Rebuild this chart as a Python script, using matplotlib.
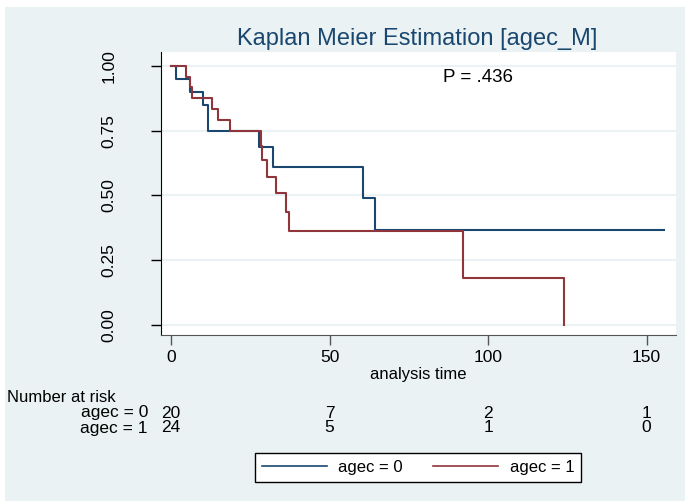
import matplotlib
matplotlib.use('Agg')
import matplotlib.pyplot as plt
import matplotlib.transforms as mtransforms
from matplotlib.patches import Rectangle

plt.rcParams['font.family'] = ['Liberation Sans', 'DejaVu Sans']

# survival curves
time0 = [0, 1.6, 5.8, 10.2, 11.5, 27.8, 32.0, 60.5, 64.2, 155.5]
surv0 = [1.0, 0.95, 0.90, 0.85, 0.75, 0.6875, 0.611, 0.489, 0.367, 0.367]
time1 = [0, 4.7, 5.8, 6.7, 12.9, 14.7, 18.6, 28.3, 28.7, 30.1, 33.0, 36.3, 37.3, 92.0, 124.0]
surv1 = [1.0, 0.958, 0.917, 0.875, 0.833, 0.792, 0.75, 0.692, 0.635, 0.571, 0.508, 0.436, 0.363, 0.182, 0.0]

risk_times = [0, 50, 100, 150]
risk0 = [20, 7, 2, 1]
risk1 = [24, 5, 1, 0]
groups = ['agec = 0', 'agec = 1']

bg = '#eaf2f3'
navy = '#1a476f'
maroon = '#90353b'

W, H = 685, 501
fig = plt.figure(figsize=(W / 100, H / 100), dpi=100, facecolor='white')
fig.patches.append(Rectangle((5 / W, 0), 1, 1 - 7 / H, transform=fig.transFigure,
                             facecolor=bg, edgecolor='none', zorder=-10))

ax = fig.add_axes([161 / W, 1 - 335 / H, (676 - 161) / W, (335 - 52) / H])
ax.set_facecolor('white')

l0, = ax.plot(time0, surv0, drawstyle='steps-post', color=navy, lw=1.5, label=groups[0])
l1, = ax.plot(time1, surv1, drawstyle='steps-post', color=maroon, lw=1.5, label=groups[1])

ax.set_xlim(-3.2, 159.3)
ax.set_ylim(-0.038, 1.053)
ax.set_xticks([0, 50, 100, 150])
ax.set_yticks([0, 0.25, 0.5, 0.75, 1.0])
ax.set_yticklabels(['0.00', '0.25', '0.50', '0.75', '1.00'], rotation=90, va='center')
ax.yaxis.grid(True, color=bg, lw=1.5)
ax.set_axisbelow(True)
ax.tick_params(axis='both', direction='out', length=7, width=1, labelsize=12.5, pad=4)
ax.tick_params(axis='y', pad=25)
for s in ['top', 'right']:
    ax.spines[s].set_visible(False)
ax.spines['left'].set_color('black')
ax.spines['bottom'].set_color('#555555')
ax.tick_params(axis='x', colors='#555555', labelcolor='black')
ax.set_xlabel('analysis time', fontsize=12, labelpad=1)

fig.text(478 / W, 1 - 78 / H, 'P = .436', fontsize=13.5, ha='center', va='center')
fig.text(417 / W, 1 - 39 / H, 'Kaplan Meier Estimation [agec_M]', fontsize=17,
         color=navy, ha='center', va='center')

# number at risk table
trans = mtransforms.blended_transform_factory(ax.transData, fig.transFigure)
fig.text(7 / W, 1 - 398 / H, 'Number at risk', fontsize=12, ha='left', va='center')
for row, (name, counts) in enumerate(zip(groups, [risk0, risk1])):
    yy = 1 - (413 + 15 * row) / H
    fig.text(148 / W, yy, name, fontsize=12.5, ha='right', va='center')
    for t, n in zip(risk_times, counts):
        ax.text(t, yy, str(n), transform=trans, fontsize=12.5, ha='center', va='center')

leg = ax.legend(handles=[l0, l1], ncol=2, loc='center',
                bbox_to_anchor=(418 / W, 1 - 467.5 / H), bbox_transform=fig.transFigure,
                fontsize=12, frameon=True, fancybox=False, framealpha=1,
                edgecolor='black', handlelength=3.9, handletextpad=0.7,
                columnspacing=1.8, borderpad=0.42)
leg.get_frame().set_linewidth(1)
for h in leg.get_lines():
    h.set_linewidth(1.2)

fig.savefig('out.png', dpi=100, facecolor=fig.get_facecolor())
